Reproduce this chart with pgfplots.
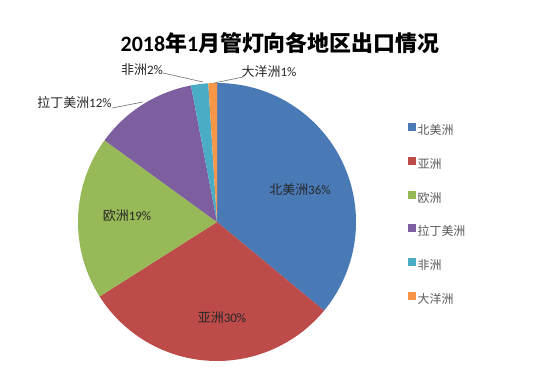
\documentclass[border=0pt]{standalone}
\usepackage{pgfplots}
\pgfplotsset{compat=1.18}
\usepackage{pgfplotstable}
\usepackage{fontspec}
\setmainfont{Carlito}
\newfontfamily\cjk{Noto Sans CJK SC}
\definecolor{cNA}{HTML}{4A7AB6}
\definecolor{cAS}{HTML}{BC4B49}
\definecolor{cEU}{HTML}{98B958}
\definecolor{cLA}{HTML}{7D5FA0}
\definecolor{cAF}{HTML}{4BACC6}
\definecolor{cOC}{HTML}{F79646}
\definecolor{legtext}{HTML}{595959}
\definecolor{lbltext}{HTML}{262626}
\definecolor{leader}{HTML}{808080}

\pgfplotstableread{
value color
36 cNA
30 cAS
19 cEU
12 cLA
2 cAF
1 cOC
}\piedata

\begin{document}
\begin{tikzpicture}
\path[use as bounding box] (0,0) rectangle (550bp,379bp);
\node[font=\bfseries\fontsize{22}{25}\selectfont] at (280bp,336bp) {2018{\cjk\bfseries 年}1{\cjk\bfseries 月管灯向各地区出口情况}};
\begin{axis}[
  at={(217bp,157bp)}, anchor=origin,
  x=1bp, y=1bp,
  xmin=-150, xmax=150, ymin=-150, ymax=150,
  hide axis, clip=false,
  legend style={at={(axis cs:191,99)}, anchor=north west, draw=none, fill=none,
    inner sep=0pt, row sep=21bp, column sep=2bp,
    font=\cjk\fontsize{12}{14}\selectfont, text=legtext,
    nodes={inner sep=0pt, text height=9bp, text depth=1bp}},
  legend cell align=left,
  legend image code/.code={\fill[#1] (0bp,0.5bp) rectangle (7bp,7.5bp);},
]
\pgfplotstablegetrowsof{\piedata}
\def\angstart{90}
\pgfplotsforeachungrouped \i in {0,...,5}{%
  \pgfplotstablegetelem{\i}{value}\of\piedata \let\v\pgfplotsretval
  \pgfplotstablegetelem{\i}{color}\of\piedata \let\c\pgfplotsretval
  \pgfmathsetmacro\angend{\angstart - 3.6*\v}%
  \pgfmathsetmacro\xs{139*cos(\angstart)}%
  \pgfmathsetmacro\ys{139*sin(\angstart)}%
  \edef\temp{\noexpand\fill[\c] (axis cs:0,0) -- (axis cs:\xs,\ys) arc[start angle=\angstart, end angle=\angend, radius=139bp] -- cycle;}%
  \temp
  \global\let\angstart\angend
}
\addlegendimage{cNA}
\addlegendimage{cAS}
\addlegendimage{cEU}
\addlegendimage{cLA}
\addlegendimage{cAF}
\addlegendimage{cOC}
\legend{北美洲,亚洲,欧洲,拉丁美洲,非洲,大洋洲}
\begin{scope}[font=\fontsize{13}{15}\selectfont, text=lbltext]
\node at (axis cs:83,32) {{\cjk 北美洲}36\%};
\node at (axis cs:5,-96) {{\cjk 亚洲}30\%};
\node at (axis cs:-90,6) {{\cjk 欧洲}19\%};
\node at (axis cs:-142.5,119) {{\cjk 拉丁美洲}12\%};
\node at (axis cs:-75,152) {{\cjk 非洲}2\%};
\node at (axis cs:52,150) {{\cjk 大洋洲}1\%};
\end{scope}
\draw[leader, line width=0.7bp] (axis cs:-105,114) -- (axis cs:-74,120);
\draw[leader, line width=0.7bp] (axis cs:-54,149) -- (axis cs:-14,140);
\draw[leader, line width=0.7bp] (axis cs:26,145) -- (axis cs:-3,139);
\end{axis}
\end{tikzpicture}
\end{document}
